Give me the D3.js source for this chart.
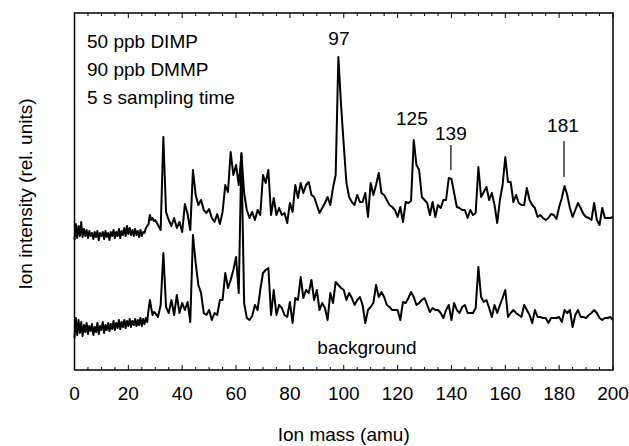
<!DOCTYPE html>
<html><head><meta charset="utf-8">
<script src="https://cdn.jsdelivr.net/npm/d3@7"></script>
<style>
body{margin:0;background:#fff}
svg{display:block}
text{font-family:"Liberation Sans",Arial,Helvetica,sans-serif;fill:#000}
</style>
</head><body>
<svg id="chart" width="629" height="446"></svg>
<script>
// ---- data (intensity in relative units) ----
// fine-sampled region 0 .. 29.5 amu (0.5 amu steps)
const sampleFine = [130,146,132,144,134,148,133,141,134,140,
 132,139,134,137,131,138,133,139,130,137,
 134,138,131,139,133,137,130,138,134,140,
 132,138,134,141,132,139,135,142,134,144,
 136,142,135,140,134,141,135,139,133,140,
 134,138,137,142,144,146,155,150,152,149];
// integer masses 30 .. 200 amu
const sampleCoarse = [150,145,140,233,158,150,144,152,142,148,
 138,166,156,140,200,175,165,170,160,157,
 161,152,148,156,146,158,185,178,218,195,
 205,185,216,177,160,152,158,150,160,155,
 195,187,200,155,172,155,162,155,157,147,
 167,158,185,172,187,177,185,188,175,173,
 165,157,162,167,173,165,182,195,313,265,
 225,187,173,168,165,175,168,168,177,153,
 187,175,185,197,177,175,170,165,163,160,
 153,163,148,168,167,169,230,205,200,173,
 170,167,155,168,153,165,162,170,170,192,
 191,177,163,162,160,160,152,160,155,157,
 203,173,178,183,170,177,165,147,170,185,
 213,188,188,168,175,167,165,165,182,170,
 165,162,153,155,152,150,152,156,155,151,
 163,172,184,175,162,153,160,167,162,156,
 153,152,150,167,150,145,162,152,152,152,
 153];
const backgroundFine = [32,52,35,50,37,48,34,45,38,47,
 36,44,39,46,35,43,38,47,36,44,
 40,48,37,45,40,47,39,46,41,49,
 40,47,42,50,41,48,43,50,42,49,
 44,51,43,49,45,51,44,50,45,52,
 44,51,46,52,48,60,70,62,55,58];
const backgroundCoarse = [57,53,65,117,63,57,70,55,75,57,
 67,60,68,48,135,107,85,77,57,55,
 60,50,57,55,70,70,97,82,90,100,
 113,77,217,67,52,50,54,65,60,80,
 97,100,102,55,80,55,65,62,55,53,
 68,47,72,70,93,72,80,77,90,70,
 80,60,67,62,50,77,67,88,85,82,
 80,70,77,72,65,70,73,65,47,60,
 63,67,85,73,78,73,65,63,60,60,
 60,50,68,67,72,78,73,65,67,70,
 72,65,58,62,60,60,57,52,60,65,
 50,67,60,57,63,65,57,57,57,62,
 103,73,68,70,62,53,65,57,65,72,
 80,53,57,60,57,55,53,65,60,55,
 47,60,53,53,52,52,47,52,52,52,
 53,48,60,57,60,43,55,60,53,53,
 52,55,57,60,57,52,50,52,52,53,
 50];
const xTickValues = [0,20,40,60,80,100,120,140,160,180,200];
const infoLines = ["50 ppb DIMP","90 ppb DMMP","5 s sampling time"];
const peakLabels = ["97","125","139","181"];
const peakLabelMass = [98.2,125.3,139.8,181.4];
const peakLabelLevel = [325,245,230,238];
const markerMass = [139.8,181.8];
const markerFrom = [200,193];
const markerTo = [225,229];
const bgLabel = "background";

// ---- layout ----
const L=74.5, R=613, T=13, B=370;
const svg = d3.select("#chart");
const x = d3.scaleLinear().domain([0,200]).range([L,R]);
const y = d3.scaleLinear().domain([0,357]).range([B,T]);

const fineMass = d3.range(0,30,0.5);
const coarseMass = d3.range(30,201,1);
const mk = (f,c)=> fineMass.map((m,i)=>[m,f[i]]).concat(coarseMass.map((m,i)=>[m,c[i]]));
const sample = mk(sampleFine,sampleCoarse);
const background = mk(backgroundFine,backgroundCoarse);

const line = d3.line().x(d=>x(d[0])).y(d=>y(d[1]));
[sample,background].forEach(s=>{
  svg.append("path").attr("d",line(s)).attr("fill","none")
    .attr("stroke","#000").attr("stroke-width",2).attr("stroke-linejoin","round");
});

// frame
svg.append("rect").attr("x",L).attr("y",T).attr("width",R-L).attr("height",B-T)
  .attr("fill","none").attr("stroke","#000").attr("stroke-width",1.5);

// ticks (inward, bottom and top)
const minor = d3.range(0,201,5);
minor.forEach(m=>{
  const len = (m%20===0)?5:3;
  svg.append("line").attr("x1",x(m)).attr("x2",x(m)).attr("y1",B).attr("y2",B-len).attr("stroke","#000").attr("stroke-width",1);
  svg.append("line").attr("x1",x(m)).attr("x2",x(m)).attr("y1",T).attr("y2",T+len).attr("stroke","#000").attr("stroke-width",1);
});
const fs = 19;
svg.append("g").selectAll("text").data(xTickValues).join("text")
  .attr("x",d=>x(d)).attr("y",400).attr("text-anchor","middle").attr("font-size",fs).text(d=>d);

svg.append("text").attr("x",(L+R)/2).attr("y",441).attr("text-anchor","middle").attr("font-size",fs).text("Ion mass (amu)");
svg.append("text").attr("transform","translate(32,194) rotate(-90)").attr("text-anchor","middle").attr("font-size",fs).text("Ion intensity (rel. units)");

infoLines.forEach((t,i)=>{
  svg.append("text").attr("x",87).attr("y",[48,76,104][i]).attr("font-size",fs).text(t);
});
peakLabels.forEach((t,i)=>{
  svg.append("text").attr("x",x(peakLabelMass[i])).attr("y",y(peakLabelLevel[i])).attr("text-anchor","middle").attr("font-size",fs).text(t);
});
markerMass.forEach((m,i)=>{
  svg.append("line").attr("x1",x(m)).attr("x2",x(m)).attr("y1",y(markerFrom[i])).attr("y2",y(markerTo[i])).attr("stroke","#000").attr("stroke-width",1.2);
});
svg.append("text").attr("x",367).attr("y",354).attr("text-anchor","middle").attr("font-size",fs).text(bgLabel);
</script>
</body></html>
